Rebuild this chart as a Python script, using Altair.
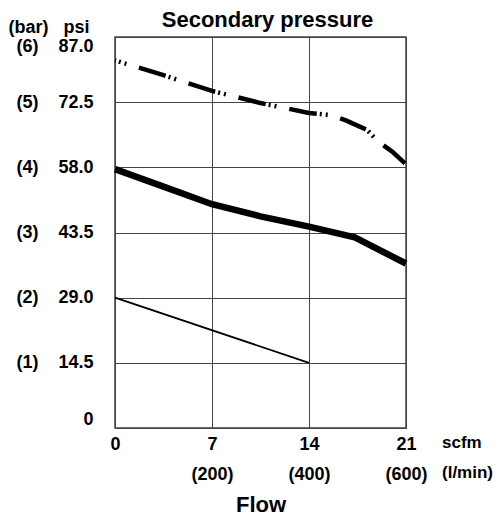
import altair as alt
import pandas as pd
import json

# ---- data ----
thin_flow = [0, 14]
thin_psi = [29.0, 14.5]

thick_flow = [0, 3.5, 7, 10.5, 14, 17.3, 21]
thick_psi = [57.6, 53.7, 49.8, 47.1, 44.8, 42.4, 36.6]

dash_flow = [0, 3.5, 7, 10.5, 14, 15.6, 16.7, 18.2, 19.0, 20.0, 21]
dash_psi = [81.8, 78.5, 75.0, 72.3, 70.1, 69.6, 68.4, 66.3, 63.7, 61.5, 58.7]

psi_ticks = [0, 14.5, 29, 43.5, 58, 72.5, 87]
psi_labels = ["0", "14.5", "29.0", "43.5", "58.0", "72.5", "87.0"]
bar_labels = ["", "(1)", "(2)", "(3)", "(4)", "(5)", "(6)"]

flow_ticks = [0, 7, 14, 21]
flow_labels = ["0", "7", "14", "21"]
lmin_labels = ["", "(200)", "(400)", "(600)"]

TITLE = "Secondary pressure"
Y_TITLE = ["(bar)", "psi"]
X_TITLE = "Flow"
UNITS = ["scfm", "(l/min)"]

FONT = "Liberation Sans"
NB = "\u00a0"

# ---- tables ----
df = pd.concat([
    pd.DataFrame({"flow": thin_flow, "psi": thin_psi, "series": "thin"}),
    pd.DataFrame({"flow": thick_flow, "psi": thick_psi, "series": "thick"}),
    pd.DataFrame({"flow": dash_flow, "psi": dash_psi, "series": "dash"}),
])

# ---- label expressions ----
y_lab = []
for b, p in zip(bar_labels, psi_labels):
    y_lab.append(p if not b else b + NB * 4 + p)
y_expr = f"{json.dumps(y_lab)}[indexof({json.dumps(psi_ticks)}, datum.value)]"

x_lab = []
for f, l in zip(flow_labels, lmin_labels):
    x_lab.append(f if not l else [f, l])
x_expr = f"{json.dumps(x_lab)}[indexof({json.dumps(flow_ticks)}, datum.value)]"

W, H = 291, 391

x_scale = alt.Scale(domain=[0, 21], nice=False, zero=False)
y_scale = alt.Scale(domain=[0, 87], nice=False, zero=False)

x_axis = alt.Axis(
    values=flow_ticks, labelExpr=x_expr, ticks=False, domain=False,
    grid=True, gridColor="#444", gridWidth=1, labelFlush=False,
    labelFont=FONT, labelFontSize=18, labelFontWeight="bold", labelColor="#000",
    labelBaseline="top", labelPadding=7, labelLineHeight=30, labelAngle=0,
    title=X_TITLE, titleFont=FONT, titleFontSize=22, titleFontWeight="bold",
    titleColor="#000", titleBaseline="middle", titleY=76, titleX=W / 2,
    titleAnchor="middle",
)
y_axis = alt.Axis(
    values=psi_ticks, labelExpr=y_expr, ticks=False, domain=False,
    grid=True, gridColor="#444", gridWidth=1,
    labelFont=FONT, labelFontSize=18, labelFontWeight="bold", labelColor="#000",
    labelPadding=22, labelFlush=True,
    title=(NB * 3).join(Y_TITLE), titleFont=FONT, titleFontSize=18,
    titleFontWeight="bold", titleColor="#000", titleAngle=0, titleAlign="left",
    titleBaseline="alphabetic", titleX=-107, titleY=-5,
)

base = alt.Chart(df).encode(
    x=alt.X("flow:Q", scale=x_scale, axis=x_axis),
    y=alt.Y("psi:Q", scale=y_scale, axis=y_axis),
)

thin = base.transform_filter(alt.datum.series == "thin").mark_line(
    color="#000", strokeWidth=1.8)
thick = base.transform_filter(alt.datum.series == "thick").mark_line(
    color="#000", strokeWidth=6.5, strokeCap="butt")
dash = base.transform_filter(alt.datum.series == "dash").mark_line(
    color="#000", strokeWidth=4.5, strokeCap="butt",
    strokeDash=[28, 3, 2, 4, 2, 13], strokeDashOffset=27)

units = alt.Chart(alt.Data(values=[{}])).mark_text(
    text=UNITS, align="left", baseline="top", lineHeight=30,
    font=FONT, fontSize=17, fontWeight="bold", color="#000", dx=36, dy=7,
).encode(x=alt.datum(21), y=alt.datum(0))

title = alt.Chart(alt.Data(values=[{}])).mark_text(
    text=TITLE, align="center", baseline="alphabetic",
    font=FONT, fontSize=22, fontWeight="bold", color="#000", dx=7, dy=-10,
).encode(x=alt.datum(10.5), y=alt.datum(87))

chart = alt.layer(thin, thick, dash, units, title).properties(
    width=W, height=H,
    autosize=alt.AutoSizeParams(type="none"),
    padding={"left": 107, "top": 29, "right": 88, "bottom": 87},
).configure_view(stroke="#444", strokeWidth=1.5)

chart.save("out.html", embed_options={"renderer": "svg", "actions": False})
